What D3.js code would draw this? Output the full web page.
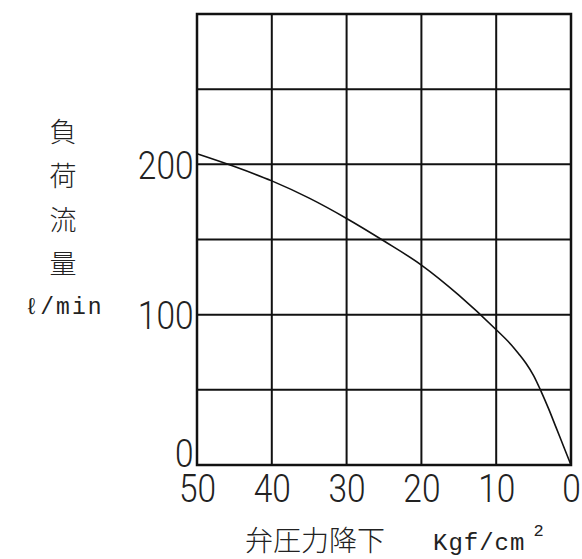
<!DOCTYPE html>
<html><head><meta charset="utf-8">
<script src="https://cdn.jsdelivr.net/npm/d3@7"></script>
<style>body{margin:0;background:#fff}svg{display:block}</style>
</head><body>
<script>
// Data
const pressureDrop = [50, 45, 40, 35, 30, 25, 20, 15, 10, 8, 7, 6, 5, 4, 3, 2, 1, 0];
const loadFlow     = [207, 198.5, 189, 177.5, 164, 149, 133, 113, 90, 80, 74, 67.5, 59.5, 49, 37.5, 25, 12.5, 0];
const xTickValues = [50, 40, 30, 20, 10, 0];
const yGridValues = [0, 50, 100, 150, 200, 250, 300];
const yLabelValues = [0, 100, 200];
const yTitleChars = ["負", "荷", "流", "量"];
const yUnit = "ℓ/min";
const xTitle = "弁圧力降下";
const xUnit = "Kgf/cm";

const W = 582, H = 559;
const svg = d3.select("body").append("svg").attr("width", W).attr("height", H);

const x = d3.scaleLinear().domain([50, 0]).range([197, 571]);
const y = d3.scaleLinear().domain([0, 300]).range([465, 14]);

const numFont = "Roboto, 'Liberation Sans', sans-serif";
const cjkFont = "'Noto Sans CJK JP', sans-serif";
const monoFont = "'Liberation Mono', 'DejaVu Sans Mono', monospace";

// grid
const g = svg.append("g");
g.selectAll("line.v").data(xTickValues).join("line")
  .attr("x1", d => x(d)).attr("x2", d => x(d))
  .attr("y1", y(0)).attr("y2", y(300))
  .attr("stroke", "#111").attr("stroke-width", 2);
g.selectAll("line.h").data(yGridValues).join("line")
  .attr("y1", d => y(d)).attr("y2", d => y(d))
  .attr("x1", x(50)).attr("x2", x(0))
  .attr("stroke", "#111").attr("stroke-width", 2);
g.append("rect").attr("x", x(50)).attr("y", y(300))
  .attr("width", x(0) - x(50)).attr("height", y(0) - y(300))
  .attr("fill", "none").attr("stroke", "#111").attr("stroke-width", 2.5);

// curve
const data = pressureDrop.map((p, i) => ({p, q: loadFlow[i]}));
svg.append("path").datum(data)
  .attr("fill", "none").attr("stroke", "#111").attr("stroke-width", 1.6)
  .attr("d", d3.line().x(d => x(d.p)).y(d => y(d.q)).curve(d3.curveMonotoneX));

// x axis labels
const xAxis = svg.append("g").attr("transform", `translate(0,${y(0)})`)
  .call(d3.axisBottom(x).tickValues(xTickValues).tickSize(0).tickPadding(0).tickFormat(d3.format("d")));
xAxis.select(".domain").remove();
xAxis.selectAll("text").attr("y", 0).attr("dy", 37)
  .attr("transform", "scale(0.88,1)")
  .attr("font-family", numFont).attr("font-weight", 300).attr("font-size", 38).attr("fill", "#222");

// y axis labels
const yAxis = svg.append("g").attr("transform", `translate(${x(50)},0)`)
  .call(d3.axisLeft(y).tickValues(yLabelValues).tickSize(0).tickPadding(4).tickFormat(d3.format("d")));
yAxis.select(".domain").remove();
yAxis.selectAll("text").attr("dy", "0.36em")
  .attr("transform", "scale(0.88,1)")
  .attr("font-family", numFont).attr("font-weight", 300).attr("font-size", 38).attr("fill", "#222");
yAxis.selectAll(".tick").filter(d => d === 0).select("text").attr("dy", "0.03em");

// y title
svg.append("g").selectAll("text").data(yTitleChars).join("text")
  .attr("x", 63).attr("y", (d, i) => 142 + i * 44)
  .attr("text-anchor", "middle").attr("font-family", cjkFont).attr("font-weight", 300)
  .attr("font-size", 27).attr("fill", "#222").text(d => d);
svg.append("text").attr("x", 64).attr("y", 314).attr("text-anchor", "middle")
  .attr("font-family", monoFont).attr("font-size", 23).attr("letter-spacing", 2)
  .attr("fill", "#222").text(yUnit);

// x title
svg.append("text").attr("x", 315).attr("y", 551).attr("text-anchor", "middle")
  .attr("font-family", cjkFont).attr("font-weight", 300).attr("font-size", 28)
  .attr("fill", "#222").text(xTitle);
const xu = svg.append("text").attr("x", 433).attr("y", 550)
  .attr("font-family", monoFont).attr("font-size", 24).attr("letter-spacing", 1).attr("fill", "#222");
xu.append("tspan").text(xUnit);
xu.append("tspan").attr("dx", 8).attr("dy", -14).attr("font-size", 17).text("2");
</script>
</body></html>
